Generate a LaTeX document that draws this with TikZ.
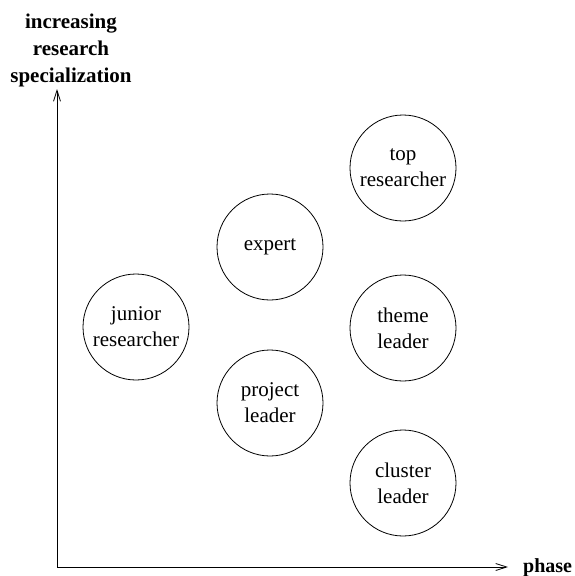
\documentclass[tikz,border=0pt]{standalone}
\usepackage{fontspec}
\setmainfont{Liberation Serif}
\usetikzlibrary{arrows.meta}
\begin{document}
\begin{tikzpicture}[x=1pt,y=-1pt,
  role/.style={draw,circle,line width=0.8pt,minimum size=106pt,inner sep=0pt,align=center,
    font=\fontsize{21}{26}\selectfont},
  axis/.style={line width=0.8pt,-{Straight Barb[length=11pt,width=7pt]}},
  axislabel/.style={font=\fontsize{21}{27}\selectfont\bfseries,inner sep=0pt,align=center}]
\useasboundingbox (0,0) rectangle (575,576);
\coordinate (o) at (57,567);
\coordinate (ytop) at (57,89);
\coordinate (xend) at (508,567);
\draw[axis] (o) -- (ytop);
\draw[axis] (o) -- (xend);
\node[axislabel,anchor=north] (ylab) at (71,13.5) {increasing\\research\\specialization};
\node[axislabel,anchor=west,font=\fontsize{20}{24}\selectfont\bfseries] (xlab) at (523,568) {phase};
\node[role] (top) at (403,168) {top\\researcher};
\node[role] (expert) at (270,247) {expert};
\node[role] (junior) at (136,327) {junior\\researcher};
\node[role] (theme) at (403,328) {theme\\leader};
\node[role] (project) at (270,403) {project\\leader};
\node[role] (cluster) at (403,483) {cluster\\leader};
\end{tikzpicture}
\end{document}
